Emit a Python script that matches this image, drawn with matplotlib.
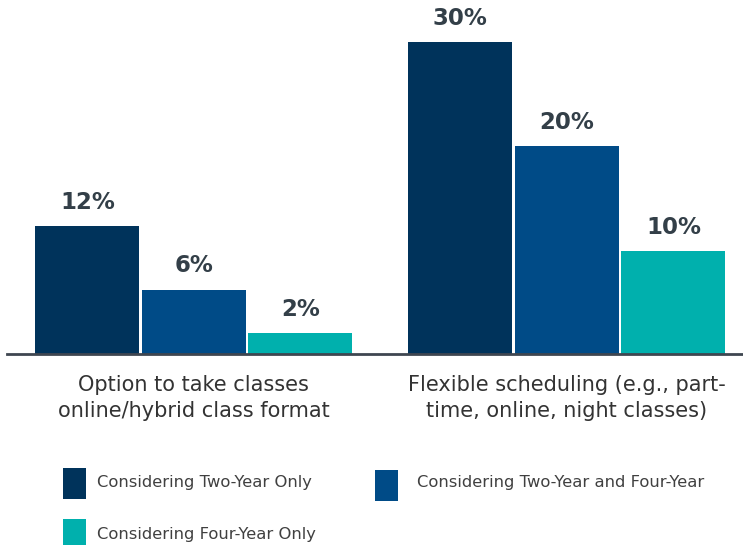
import matplotlib.pyplot as plt
from matplotlib.patches import Rectangle
import numpy as np

categories = ["Option to take classes\nonline/hybrid class format",
              "Flexible scheduling (e.g., part-\ntime, online, night classes)"]
series_names = ["Considering Two-Year Only",
                "Considering Two-Year and Four-Year",
                "Considering Four-Year Only"]
# values per series (percent), bar heights
two_year_only = [12.3, 30]
two_and_four_year = [6.2, 20]
four_year_only = [2, 9.9]

colors = ["#00335B", "#004B87", "#00B0AD"]
text_color = "#333F48"

W, H = 743, 545
fig = plt.figure(figsize=(W / 100, H / 100), dpi=100)
fig.set_facecolor("white")

# axes placed in pixel terms: baseline at y=354, spans x 7..743
ax = fig.add_axes([7 / W, 1 - 354 / H, (743 - 7) / W, 354 / H])
ax.set_facecolor("white")

x = np.arange(len(categories))
step = 106.5 / 373
width = 104 / 373
series = [two_year_only, two_and_four_year, four_year_only]
for i, (vals, col) in enumerate(zip(series, colors)):
    bars = ax.bar(x + (i - 1) * step, vals, width=width, color=col, linewidth=0)
    for b, v in zip(bars, vals):
        ax.annotate(f"{round(v)}%", (b.get_x() + b.get_width() / 2, v),
                    xytext=(0, 12.5), textcoords="offset points",
                    ha="center", va="baseline", fontsize=16.5,
                    fontweight="bold", color=text_color)

ax.set_xlim(-0.501, 1.472)
ax.set_ylim(0, 354 / 10.4)

for s in ["left", "right", "top"]:
    ax.spines[s].set_visible(False)
ax.spines["bottom"].set_color("#3F4650")
ax.spines["bottom"].set_linewidth(2)
ax.set_yticks([])
ax.set_xticks(x)
ax.set_xticklabels(categories, fontsize=15, color="#333333", linespacing=1.4)
ax.tick_params(axis="x", length=0, pad=15)

# legend drawn by hand at the bottom
legend_pos = [(63, 468, 97, 482), (375, 470, 417, 482), (63, 519, 97, 535)]
for name, col, (px, py, tx, ty) in zip(series_names, colors, legend_pos):
    fig.add_artist(Rectangle((px / W, 1 - (py + 31) / H), 23 / W, 31 / H,
                             transform=fig.transFigure, color=col, lw=0))
    fig.text(tx / W, 1 - ty / H, name, fontsize=11.8, color="#404040",
             va="center", ha="left")

fig.savefig("out.png", dpi=100)
